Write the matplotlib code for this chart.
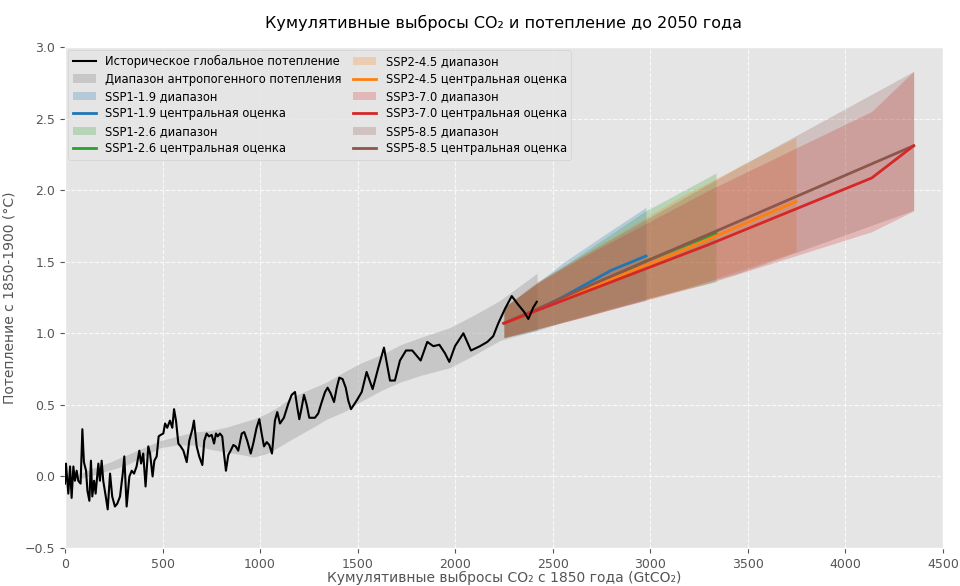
import numpy as np
import matplotlib
matplotlib.use("Agg")
import matplotlib.pyplot as plt
from matplotlib.patches import Patch
from matplotlib.lines import Line2D

hist_x = [0, 5, 17, 26, 34, 43, 51, 60, 68, 80, 89, 97, 108, 115, 125, 133, 140, 149, 157, 171,
          179, 188, 196, 209, 219, 231, 242, 256, 268, 282, 296, 304, 316, 330, 342, 354, 367, 381,
          390, 401, 413, 427, 436, 449, 458, 470, 480, 490, 504, 513, 524, 538, 550, 559, 569, 581,
          593, 607, 624, 637, 653, 661, 675, 688, 704, 714, 726, 738, 752, 764, 774, 783, 794, 806,
          815, 825, 837, 849, 863, 875, 888, 906, 919, 934, 952, 965, 982, 996, 1008, 1020, 1034,
          1047, 1061, 1076, 1088, 1102, 1122, 1145, 1162, 1179, 1191, 1201, 1213, 1225, 1239, 1252,
          1264, 1281, 1298, 1316, 1333, 1346, 1362, 1379, 1393, 1406, 1423, 1439, 1452, 1466, 1495,
          1521, 1546, 1577, 1606, 1635, 1666, 1691, 1717, 1748, 1780, 1823, 1857, 1888, 1919, 1948,
          1970, 1999, 2042, 2081, 2127, 2165, 2195, 2221, 2255, 2290, 2323, 2353, 2375, 2400, 2418]
hist_y = [-0.05, 0.09, -0.12, 0.07, -0.15, 0.07, -0.03, 0.04, -0.03, -0.05, 0.33, 0.10, 0.04, -0.10,
          -0.17, 0.11, -0.14, -0.03, -0.12, 0.09, -0.03, 0.11, -0.03, -0.14, -0.23, 0.02, -0.14, -0.21,
          -0.19, -0.14, 0.02, 0.14, -0.21, 0.00, 0.04, 0.02, 0.07, 0.18, 0.09, 0.16, -0.07, 0.21, 0.16,
          0.00, 0.11, 0.14, 0.28, 0.29, 0.30, 0.37, 0.34, 0.39, 0.34, 0.47, 0.39, 0.23, 0.21, 0.18,
          0.10, 0.25, 0.33, 0.39, 0.21, 0.14, 0.08, 0.25, 0.30, 0.28, 0.29, 0.23, 0.30, 0.28, 0.30,
          0.28, 0.16, 0.04, 0.15, 0.18, 0.22, 0.21, 0.18, 0.30, 0.31, 0.25, 0.16, 0.23, 0.34, 0.40,
          0.30, 0.21, 0.24, 0.22, 0.16, 0.39, 0.45, 0.37, 0.41, 0.51, 0.57, 0.59, 0.48, 0.40, 0.48,
          0.57, 0.50, 0.41, 0.41, 0.41, 0.44, 0.52, 0.59, 0.62, 0.58, 0.52, 0.62, 0.69, 0.68, 0.62,
          0.53, 0.47, 0.53, 0.59, 0.73, 0.61, 0.76, 0.90, 0.67, 0.67, 0.81, 0.88, 0.88, 0.81, 0.94,
          0.91, 0.92, 0.86, 0.80, 0.91, 1.00, 0.88, 0.91, 0.94, 0.98, 1.07, 1.17, 1.26, 1.20, 1.15,
          1.10, 1.18, 1.22]

# anthropogenic warming range
band_x = [60, 145, 231, 316, 401, 487, 572, 658, 743, 829, 914, 965, 1034, 1085, 1170, 1273,
          1341, 1444, 1512, 1620, 1720, 1820, 1973, 2100, 2230, 2420]
band_lo = [-0.02, 0.01, 0.045, 0.08, 0.14, 0.20, 0.22, 0.22, 0.19, 0.17, 0.15, 0.135, 0.16, 0.197,
           0.266, 0.345, 0.40, 0.461, 0.52, 0.60, 0.66, 0.705, 0.76, 0.85, 0.95, 1.02]
band_hi = [0.01, 0.06, 0.10, 0.15, 0.20, 0.25, 0.28, 0.31, 0.32, 0.345, 0.38, 0.40, 0.44, 0.48,
           0.56, 0.62, 0.66, 0.74, 0.79, 0.85, 0.92, 0.97, 1.04, 1.13, 1.23, 1.42]

# scenarios
scen_names = ["SSP1-1.9", "SSP1-2.6", "SSP2-4.5", "SSP3-7.0", "SSP5-8.5"]
scen_colors = ["tab:blue", "tab:green", "tab:orange", "tab:red", "tab:brown"]
scen_x = [
    [2250, 2420, 2560, 2800, 2978],
    [2250, 2420, 2600, 2970, 3337],
    [2250, 2420, 2620, 3150, 3747],
    [2250, 2420, 2650, 3300, 4135, 4350],
    [2250, 2420, 2700, 3450, 4350],
]
scen_mid = [
    [1.07, 1.16, 1.26, 1.44, 1.54],
    [1.07, 1.16, 1.27, 1.50, 1.70],
    [1.07, 1.16, 1.28, 1.57, 1.92],
    [1.07, 1.16, 1.28, 1.62, 2.085, 2.31],
    [1.07, 1.17, 1.34, 1.78, 2.31],
]
scen_lo = [
    [0.97, 1.02, 1.08, 1.17, 1.23],
    [0.97, 1.03, 1.10, 1.24, 1.36],
    [0.97, 1.03, 1.10, 1.30, 1.57],
    [0.97, 1.03, 1.11, 1.35, 1.71, 1.855],
    [0.97, 1.03, 1.13, 1.42, 1.86],
]
scen_hi = [
    [1.18, 1.35, 1.50, 1.72, 1.88],
    [1.18, 1.35, 1.51, 1.85, 2.12],
    [1.18, 1.35, 1.52, 1.95, 2.37],
    [1.18, 1.35, 1.53, 2.00, 2.55, 2.83],
    [1.18, 1.36, 1.58, 2.16, 2.83],
]

plt.style.use("ggplot")
fig = plt.figure(figsize=(9.6, 5.86), dpi=100)
ax = fig.add_axes([0.0677, 0.0648, 0.9145, 0.855])

ax.fill_between(band_x, band_lo, band_hi, color="#b4b4b4", alpha=0.6, lw=0, zorder=2)
ax.plot(hist_x, hist_y, color="black", lw=1.5, zorder=6)

for i in range(len(scen_names)):
    ax.fill_between(scen_x[i], scen_lo[i], scen_hi[i], color=scen_colors[i], alpha=0.24, lw=0, zorder=3)
for i in [0, 1, 2, 4, 3]:
    ax.plot(scen_x[i], scen_mid[i], color=scen_colors[i], lw=2, zorder=5)

handles = [Line2D([], [], color="black", lw=1.5),
           Patch(facecolor="#b4b4b4", alpha=0.6)]
labels = ["Историческое глобальное потепление", "Диапазон антропогенного потепления"]
for i in range(len(scen_names)):
    handles.append(Patch(facecolor=scen_colors[i], alpha=0.24))
    labels.append(scen_names[i] + " диапазон")
    handles.append(Line2D([], [], color=scen_colors[i], lw=2))
    labels.append(scen_names[i] + " центральная оценка")
ax.legend(handles, labels, loc="upper left", ncol=2, fontsize=8.3, frameon=True,
          borderaxespad=0.3, labelspacing=0.38, columnspacing=1.0)

ax.set_xlim(0, 4500)
ax.set_ylim(-0.5, 3.0)
ax.set_xticks(np.arange(0, 4501, 500))
ax.set_yticks(np.arange(-0.5, 3.01, 0.5))
ax.grid(True, color="white", linestyle="--", linewidth=0.8, alpha=0.8)
ax.tick_params(labelsize=9)
ax.set_title("Кумулятивные выбросы CO₂ и потепление до 2050 года", fontsize=11.5, pad=14, color="black")
ax.set_xlabel("Кумулятивные выбросы CO₂ с 1850 года (GtCO₂)", fontsize=10, labelpad=0)
ax.set_ylabel("Потепление с 1850-1900 (°C)", fontsize=10, labelpad=6)

fig.savefig("out.png", dpi=100)
